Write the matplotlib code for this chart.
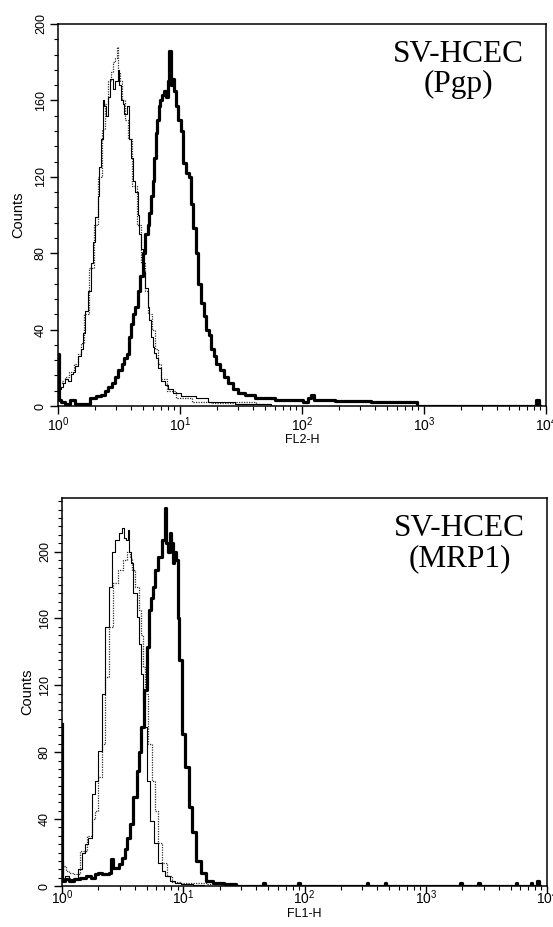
import numpy as np
import matplotlib
matplotlib.use("Agg")
import matplotlib.pyplot as plt
from matplotlib.ticker import LogLocator, LogFormatterMathtext, MultipleLocator, NullFormatter

plt.rcParams['font.family'] = ['Liberation Sans', 'DejaVu Sans']

# Flow cytometry histograms, x in channels (1024 channels over 4 log decades)
# --- SV-HCEC (Pgp), FL2-H ---
pgp_ctrl_ch = [0, 4, 8, 13, 18, 24, 29, 34, 39, 45, 50, 55, 60, 66, 71, 76, 81, 85, 88, 92,
               95, 99, 102, 107, 113, 118, 123, 127, 130, 134, 137, 142, 147, 150, 155, 160, 165, 170, 172, 176,
               181, 186, 190, 193, 197, 200, 204, 207, 213, 220, 228, 235, 249, 266, 282, 298, 330, 360, 382, 424,
               466, 508]
pgp_ctrl = [12, 9, 10, 12, 14, 13, 17, 18, 21, 26, 30, 38, 50, 60, 75, 86, 99, 110, 125, 140,
            160, 157, 152, 162, 171, 166, 170, 176, 168, 160, 158, 153, 157, 140, 130, 118, 112, 100, 90, 82,
            70, 62, 52, 45, 36, 31, 28, 25, 20, 13, 11, 9, 7, 5, 5, 4, 2, 2, 1, 1,
            0, 0]

pgp_iso_ch = [0, 5, 10, 18, 29, 39, 45, 50, 60, 71, 81, 88, 95, 102, 108, 113, 118, 122, 125, 128,
              132, 137, 145, 150, 160, 170, 180, 186, 193, 200, 207, 213, 220, 235, 260, 300, 340, 400, 430, 460]
pgp_iso = [10, 12, 13, 15, 18, 22, 27, 33, 48, 72, 95, 120, 145, 158, 170, 175, 180, 182, 188, 175,
           170, 160, 150, 140, 115, 95, 75, 60, 48, 40, 30, 22, 14, 8, 4, 2, 1.5, 2, 1, 0]

pgp_ab_ch = [0, 3, 10, 20, 30, 40, 50, 60, 74, 85, 95, 102, 109, 116, 123, 130, 137, 142, 147, 152,
             155, 160, 165, 170, 176, 181, 186, 190, 193, 197, 200, 204, 207, 210, 213, 217, 221, 225, 228, 232,
             235, 238, 242, 246, 249, 255, 260, 266, 272, 277, 281, 286, 291, 298, 304, 308, 315, 319, 325, 329,
             336, 343, 352, 361, 372, 382, 403, 424, 445, 466, 490, 508, 520, 529, 534, 540, 570, 592, 634, 676,
             740, 765, 1000, 1005, 1012]
pgp_ab = [27, 3, 2, 1, 3, 1, 1, 1, 4, 5, 6, 8, 10, 12, 15, 19, 22, 25, 27, 36,
          43, 48, 52, 60, 68, 80, 90, 95, 101, 110, 118, 130, 143, 150, 157, 160, 163, 165, 162, 170,
          186, 168, 171, 165, 157, 150, 144, 127, 122, 120, 106, 93, 80, 64, 54, 47, 40, 37, 30, 26,
          22, 19, 15, 12, 9, 7, 6, 4, 4, 3, 3, 3, 2, 4, 6, 3, 3, 2.5, 2.5, 2,
          2, 0, 0, 3, 0]

# --- SV-HCEC (MRP1), FL1-H ---
mrp_ctrl_ch = [0, 3, 10, 20, 31, 38, 45, 52, 59, 66, 73, 80, 87, 95, 102, 109, 116, 123, 130, 133,
               137, 140, 144, 147, 154, 161, 165, 169, 172, 176, 183, 190, 197, 207, 214, 222, 235, 243, 260, 290,
               310]
mrp_ctrl = [15, 4, 6, 4, 5, 10, 20, 25, 29, 55, 63, 81, 115, 155, 179, 200, 207, 211, 214, 208,
            207, 213, 200, 193, 175, 161, 145, 127, 110, 95, 63, 39, 26, 14, 9, 6, 3, 2, 1, 0.5,
            0]

mrp_iso_ch = [0, 5, 10, 20, 31, 45, 59, 66, 73, 80, 87, 95, 105, 112, 123, 133, 140, 145, 151, 158,
              165, 168, 172, 179, 186, 193, 200, 207, 217, 225, 239, 260, 290, 320, 350]
mrp_iso = [10, 12, 9, 8, 7, 21, 30, 40, 45, 65, 85, 125, 155, 181, 189, 195, 200, 196, 189, 179,
           165, 150, 131, 115, 85, 63, 45, 26, 14, 6, 2.5, 2, 1.5, 1, 0]

mrp_ab_ch = [0, 2, 10, 20, 31, 45, 55, 66, 73, 80, 87, 95, 102, 105, 109, 116, 123, 130, 136, 140,
             147, 154, 161, 165, 169, 176, 183, 186, 190, 193, 200, 207, 214, 219, 222, 225, 229, 232, 235, 239,
             243, 246, 250, 257, 264, 271, 278, 288, 299, 310, 327, 355, 380, 423, 426, 430, 497, 500, 503, 642,
             645, 648, 680, 683, 686, 839, 842, 845, 877, 880, 884, 957, 960, 963, 988, 991, 995, 1002, 1005, 1010]
mrp_ab = [97, 3, 4, 3, 4, 5, 6, 5, 7, 8, 7, 7, 8, 16, 11, 11, 13, 17, 22, 29,
          37, 53, 69, 80, 95, 117, 143, 165, 172, 179, 189, 197, 207, 226, 205, 200, 211, 205, 193, 200,
          195, 160, 135, 91, 71, 47, 32, 15, 8, 3, 1.5, 1, 0, 0, 2, 0, 0, 2, 0, 0,
          2, 0, 0, 2, 0, 0, 2, 0, 0, 2, 0, 0, 2, 0, 0, 2, 0, 0, 3, 0]


def ch2fl(ch):
    return 10 ** (np.asarray(ch) / 256.0)


fig = plt.figure(figsize=(5.53, 9.27), dpi=100)
ax1 = fig.add_axes([58 / 553, 1 - 406 / 927, 488 / 553, 382 / 927])
ax2 = fig.add_axes([62 / 553, 1 - 886 / 927, 485 / 553, 388 / 927])

panels = [
    (ax1, pgp_ctrl_ch, pgp_ctrl, pgp_iso_ch, pgp_iso, pgp_ab_ch, pgp_ab,
     200, 8, 'FL2-H', 'SV-HCEC\n(Pgp)'),
    (ax2, mrp_ctrl_ch, mrp_ctrl, mrp_iso_ch, mrp_iso, mrp_ab_ch, mrp_ab,
     232, 5, 'FL1-H', 'SV-HCEC\n(MRP1)'),
]

for ax, cch, cv, ich, iv, ach, av, ymax, yminor, xlab, note in panels:
    ax.plot(ch2fl(ich), iv, drawstyle='steps-mid', color='#333333', lw=0.9, ls=(0, (1, 1)))
    ax.plot(ch2fl(cch), cv, drawstyle='steps-mid', color='black', lw=0.8)
    ax.plot(ch2fl(ach), av, drawstyle='steps-mid', color='black', lw=2.3)

    ax.set_xscale('log')
    ax.set_xlim(1, 1e4)
    ax.set_ylim(0, ymax)
    ax.xaxis.set_major_locator(LogLocator(base=10, numticks=10))
    ax.xaxis.set_minor_locator(LogLocator(base=10, subs=np.arange(2, 10), numticks=20))
    ax.xaxis.set_major_formatter(LogFormatterMathtext())
    ax.xaxis.set_minor_formatter(NullFormatter())
    ax.yaxis.set_major_locator(MultipleLocator(40))
    ax.yaxis.set_minor_locator(MultipleLocator(yminor))

    ax.tick_params(axis='both', which='major', direction='out', length=6, width=1, labelsize=9)
    ax.tick_params(axis='both', which='minor', direction='out', length=3, width=0.8)
    ax.tick_params(axis='x', which='major', labelsize=10, pad=1)
    ax.tick_params(axis='y', which='major', pad=2)
    for lab in ax.get_yticklabels():
        lab.set_rotation(90)
        lab.set_va('center')

    for sp in ax.spines.values():
        sp.set_linewidth(1.1)

    ax.set_xlabel(xlab, fontsize=9)
    ax.set_ylabel('Counts', fontsize=10.5)

    ax.text(0.82, 0.958, note, transform=ax.transAxes, ha='center', va='top',
            fontsize=22.5, family='Liberation Serif', linespacing=1.05)

ax1.yaxis.set_label_coords(-0.068, 0.5)
ax2.yaxis.set_label_coords(-0.058, 0.5)
ax1.xaxis.set_label_coords(0.5, -0.072)
ax2.xaxis.set_label_coords(0.5, -0.056)
ax2.tick_params(axis='x', which='major', length=5, pad=-3)
ax2.tick_params(axis='x', which='minor', length=3)

fig.savefig('out.png', dpi=100)
